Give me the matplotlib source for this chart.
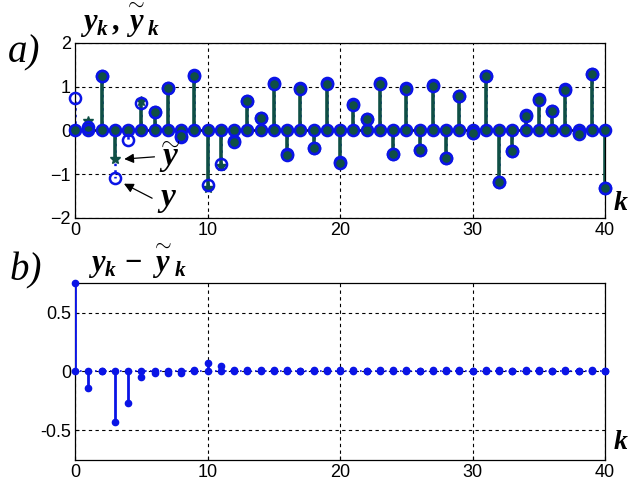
import matplotlib
matplotlib.use("Agg")
import matplotlib.pyplot as plt
import numpy as np

plt.rcParams['font.family'] = ['Liberation Sans', 'DejaVu Sans']
plt.rcParams['mathtext.fontset'] = 'custom'
plt.rcParams['mathtext.it'] = 'Liberation Serif:italic:bold'
plt.rcParams['mathtext.rm'] = 'Liberation Serif:bold'
plt.rcParams['mathtext.bf'] = 'Liberation Serif:bold'

k = np.arange(0, 41)

# y_k (blue circles)
y = [0.75, 0.08, 1.25, -1.09, -0.23, 0.62, 0.42, 0.96, -0.14, 1.26,
     -1.24, -0.76, -0.25, 0.68, 0.29, 1.08, -0.55, 0.96, -0.40, 1.08,
     -0.73, 0.60, 0.27, 1.08, -0.53, 0.96, -0.45, 1.03, -0.62, 0.79,
     -0.07, 1.25, -1.18, -0.46, 0.35, 0.71, 0.45, 0.94, -0.07, 1.29,
     -1.31]
# y~_k (green stems)
yt = [0.00, 0.22, 1.25, -0.66, 0.04, 0.67, 0.43, 0.97, -0.13, 1.25,
      -1.31, -0.81, -0.265, 0.67, 0.28, 1.07, -0.56, 0.955, -0.41, 1.07,
      -0.74, 0.59, 0.265, 1.07, -0.54, 0.95, -0.455, 1.02, -0.63, 0.78,
      -0.07, 1.24, -1.19, -0.465, 0.34, 0.70, 0.445, 0.93, -0.075, 1.28,
      -1.31]

y = np.array(y)
yt = np.array(yt)
diff = y - yt

fig = plt.figure(figsize=(6.31, 4.83), dpi=100)
ax1 = fig.add_axes([0.119, 0.549, 0.840, 0.362])
ax2 = fig.add_axes([0.119, 0.048, 0.840, 0.366])

green = '#0f4f45'
blue = '#0a14e6'

for ax in (ax1, ax2):
    ax.set_xlim(0, 40)
    ax.set_xticks([0, 10, 20, 30, 40])
    ax.grid(True, color='k', linestyle=(0, (3, 3)), linewidth=0.8)
    ax.tick_params(direction='in', length=3, labelsize=13, pad=3)
    for s in ax.spines.values():
        s.set_linewidth(0.9)

YT = r'\overset{\mathbf{\sim}}{y}'

# ---- a) ----
ax1.set_ylim(-2, 2)
ax1.set_yticks([-2, -1, 0, 1, 2])

ax1.vlines(k, 0, y, colors=blue, linestyles=':', linewidth=1.8, zorder=2)
ax1.vlines(k, 0, yt, colors=green, linewidth=2.6, zorder=3)
ax1.axhline(0, color='k', linewidth=1.8, zorder=3)
ax1.plot(k, yt, '*', color=green, ms=7, zorder=4, clip_on=False)
ax1.plot(k, np.zeros_like(y), 'o', mfc=green, mec=blue, mew=1.8, ms=8, zorder=5, clip_on=False)
ax1.plot(k, y, 'o', mfc='none', mec=blue, mew=1.8, ms=8, zorder=5, clip_on=False)
msk = np.abs(y - yt) < 0.02
ax1.plot(k[msk], yt[msk], 'o', mfc=green, mec=blue, mew=1.8, ms=8, zorder=5, clip_on=False)

# arrows pointing at k=3
ax1.annotate('', xy=(3.5, yt[3]), xytext=(6.2, -0.6),
             arrowprops=dict(arrowstyle='-|>', color='k', lw=0.9, mutation_scale=14))
ax1.annotate('', xy=(3.5, y[3] - 0.1), xytext=(6.0, -1.58),
             arrowprops=dict(arrowstyle='-|>', color='k', lw=0.9, mutation_scale=14))
ax1.text(6.3, -0.78, r'$y$', fontsize=24, va='baseline')
fig.text(0.268, 0.704, r'$\mathbf{\sim}$', fontsize=18, ha='center', va='center')
ax1.text(6.2, -1.72, r'$y$', fontsize=24, va='baseline')

fig.text(0.012, 0.87, 'a)', fontsize=28, family='Liberation Serif', style='italic')
fig.text(0.127, 0.935, r'$y_k\,,' + YT + '_k$', fontsize=22, va='baseline')
fig.text(0.972, 0.565, r'$k$', fontsize=20)

# ---- b) ----
ax2.set_ylim(-0.75, 0.75)
ax2.set_yticks([-0.5, 0, 0.5])
ax2.set_yticklabels(['-0.5', '0', '0.5'])
ax2.vlines(k, 0, diff, colors=blue, linewidth=2.0, zorder=3)
ax2.plot(k, np.zeros_like(diff), 'o', color=blue, ms=4.5, zorder=4, clip_on=False)
ax2.plot(k, diff, 'o', color=blue, ms=4.5, zorder=4, clip_on=False)
ax2.axhline(0, color=blue, linestyle=(0, (1, 2)), linewidth=1.2, zorder=3)

fig.text(0.015, 0.42, 'b)', fontsize=28, family='Liberation Serif', style='italic')
fig.text(0.139, 0.435, r'$y_k\,-\,' + YT + '_k$', fontsize=22, va='baseline')
fig.text(0.972, 0.07, r'$k$', fontsize=20)

fig.savefig('out.png', dpi=100)
